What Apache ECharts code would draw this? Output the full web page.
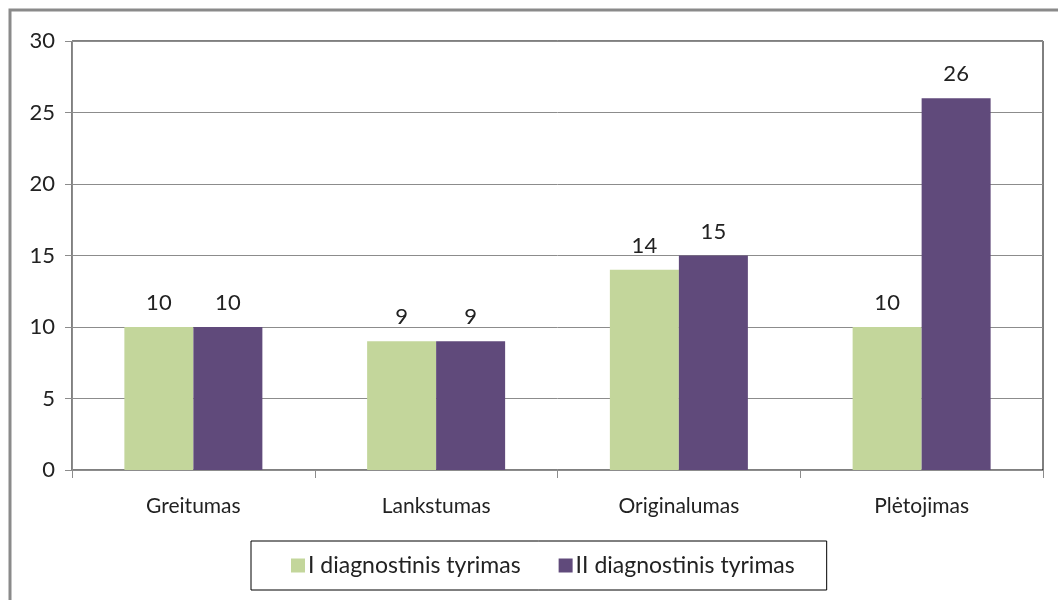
<!DOCTYPE html>
<html>
<head>
<meta charset="UTF-8">
<title>Diagnostinis tyrimas</title>
<script src="https://cdn.jsdelivr.net/npm/echarts@6/dist/echarts.min.js"></script>
<style>
  html, body { margin: 0; padding: 0; background: #fff; }
  #main { width: 1058px; height: 600px; }
</style>
</head>
<body>
<div id="main"></div>
<script>
var categories = ['Greitumas', 'Lankstumas', 'Originalumas', 'Plėtojimas'];
var seriesNames = ['I diagnostinis tyrimas', 'II diagnostinis tyrimas'];
var firstValues = [10, 9, 14, 10];
var secondValues = [10, 9, 15, 26];
var yTicks = [0, 5, 10, 15, 20, 25, 30];

var fontName = 'Lato, "Open Sans", sans-serif';
var chart = echarts.init(document.getElementById('main'));

chart.setOption({
    animation: false,
    backgroundColor: '#fff',
    textStyle: { fontFamily: fontName },
    // outer frame of the chart area
    graphic: [{
        type: 'rect',
        shape: { x: 10, y: 10, width: 1070, height: 620 },
        style: { fill: 'none', stroke: '#8a8a8a', lineWidth: 3 },
        silent: true
    }],
    grid: {
        left: 72, top: 41, right: 15, bottom: 130,
        show: true,
        borderColor: '#000',
        borderWidth: 1,
        containLabel: false
    },
    legend: {
        bottom: 10,
        left: 251,
        data: seriesNames,
        itemWidth: 14,
        itemHeight: 14,
        itemGap: 38,
        padding: [13, 32, 13, 40],
        borderColor: '#000',
        borderWidth: 1,
        icon: 'rect',
        textStyle: { fontSize: 23, color: '#222', fontFamily: fontName, padding: [0, 0, 0, -2] }
    },
    xAxis: {
        type: 'category',
        data: categories,
        axisLine: { lineStyle: { color: '#8c8c8c', width: 1 } },
        axisTick: { show: true, length: 8, lineStyle: { color: '#8c8c8c' } },
        axisLabel: { fontSize: 21, color: '#222', margin: 26, fontFamily: fontName }
    },
    yAxis: {
        type: 'value',
        min: yTicks[0],
        max: yTicks[yTicks.length - 1],
        interval: yTicks[1] - yTicks[0],
        axisLine: { show: true, lineStyle: { color: '#8c8c8c', width: 1 } },
        axisTick: { show: true, length: 7, lineStyle: { color: '#8c8c8c' } },
        axisLabel: { fontSize: 22, color: '#222', margin: 17, fontFamily: fontName },
        splitLine: { lineStyle: { color: '#8c8c8c', width: 1 } }
    },
    series: [{
        name: seriesNames[0],
        type: 'bar',
        data: firstValues,
        barWidth: 69,
        barGap: '0%',
        itemStyle: { color: '#c3d69b' },
        label: { show: true, position: 'top', distance: 13, fontSize: 22, color: '#222', fontFamily: fontName }
    }, {
        name: seriesNames[1],
        type: 'bar',
        data: secondValues,
        barWidth: 69,
        barGap: '0%',
        itemStyle: { color: '#604a7b' },
        label: { show: true, position: 'top', distance: 13, fontSize: 22, color: '#222', fontFamily: fontName }
    }]
});
</script>
</body>
</html>
